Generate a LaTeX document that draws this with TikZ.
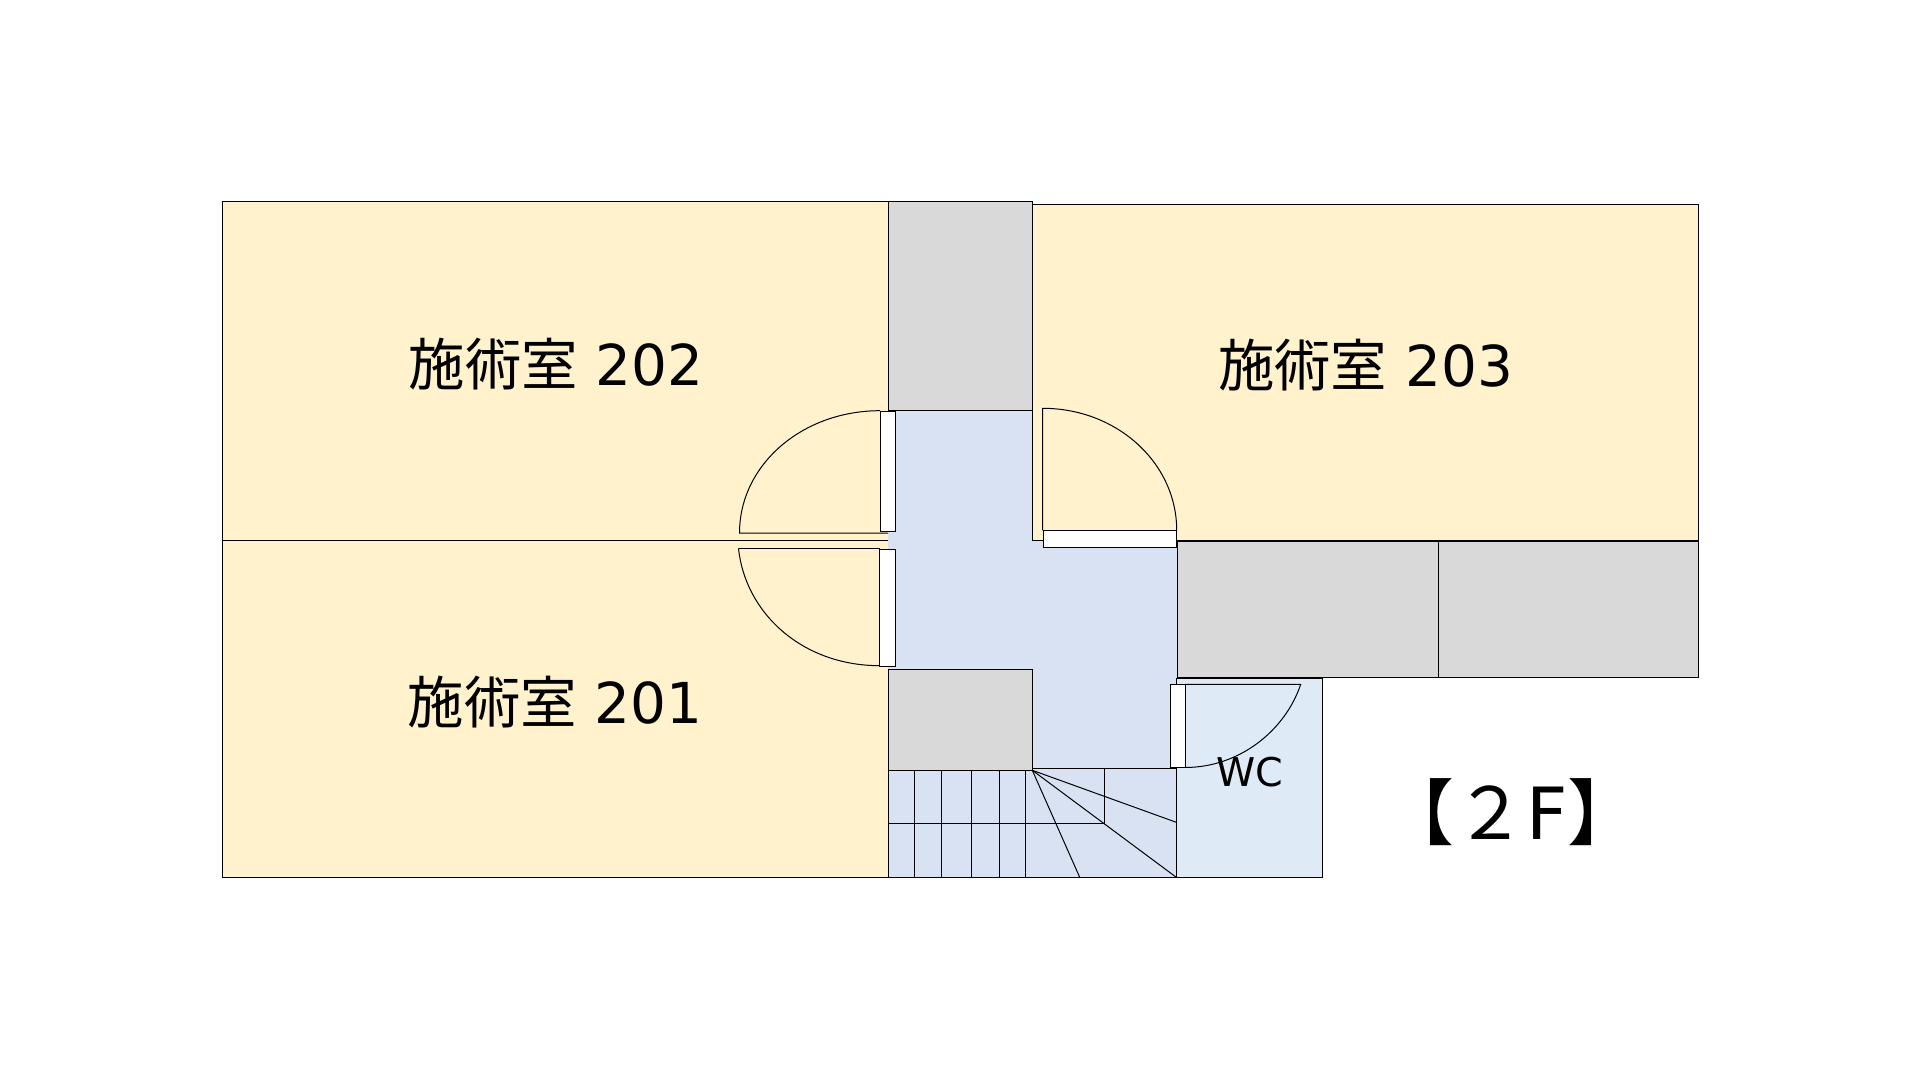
\documentclass[tikz,border=0pt]{standalone}
\usepackage{fontspec}
\setmainfont{DejaVu Sans}
\newfontfamily\cjk{Noto Sans CJK JP}
\definecolor{roomcol}{HTML}{FFF2CC}
\definecolor{wallcol}{HTML}{D9D9D9}
\definecolor{hallcol}{HTML}{D9E2F3}
\definecolor{wccol}{HTML}{DEEBF7}
\tikzset{
  room/.style={draw=black,fill=roomcol},
  wall/.style={draw=black,fill=wallcol},
  doorleaf/.style={draw=black,fill=white},
  roomlabel/.style={inner sep=0pt,font=\fontsize{28.2}{33}\selectfont},
}
\begin{document}
\begin{tikzpicture}[x=0.5pt,y=-0.5pt,line width=0.5pt]
      \useasboundingbox (0,0) rectangle (1920,1080);
      \draw[room] (222,202) rectangle (888,540);
      \draw[room] (222,540) rectangle (888,877);
      \draw[room] (1032,204.5) rectangle (1698,540);
      \fill[hallcol] (888,410) -- (1032,410) -- (1032,540) -- (1177,540) -- (1177,768)
        -- (1032,768) -- (1032,669) -- (888,669) -- cycle;
      \draw (888,410) -- (1032,410) -- (1032,540) -- (1043,540);
      \draw[wall] (888,202) rectangle (1032,410);
      \draw[wall] (888,669) rectangle (1032,770);
      \draw[wall] (1177,541) rectangle (1438,677);
      \draw[wall] (1438,541) rectangle (1698,677);
      \draw[fill=wccol] (1176.3,678.3) rectangle (1322.3,877.3);
      \draw[fill=hallcol] (888.3,770.3) -- (1032.3,770.3) -- (1032.3,768.3) -- (1176.3,768.3)
        -- (1176.3,877.3) -- (888.3,877.3) -- cycle;
      \foreach \stepx in {914.3,941.5,971.3,999.3,1025.3}
        \draw (\stepx,770.3) -- (\stepx,877.3);
      \draw (888.3,823.7) -- (1104.3,823.7) -- (1104.3,768.3);
      \coordinate (pivot) at (1032.3,770.3);
      \draw (pivot) -- (1176.3,822.3);
      \draw (pivot) -- (1176.3,877.3);
      \draw (pivot) -- (1079.7,877.3);
      \draw (880,410.7) .. controls (802,410.7) and (739.5,465) .. (739.5,533) -- (888,533);
      \draw (738.5,548.3) -- (880,548.3);
      \draw (738.5,548.3) .. controls (745,612) and (801,665.7) .. (880,665.7);
      \draw (1042.7,530.3) -- (1042.7,408.3) .. controls (1117,408.3) and (1176.7,463) .. (1176.7,530.3);
      \draw (1185,684.3) -- (1300.7,684.3) .. controls (1285,731) and (1239,767.5) .. (1185,767.5);
      \draw[doorleaf] (880.3,411.3) rectangle (895.7,531.7);
      \draw[doorleaf] (879.3,549.3) rectangle (895.7,666.3);
      \draw[doorleaf] (1043.3,530.3) rectangle (1176.7,547.3);
      \draw[doorleaf] (1170.3,684.3) rectangle (1185.3,767.7);
      \node[roomlabel] (room202) at (556,364) {{\cjk 施術室} 202};
      \node[roomlabel] (room203) at (1365.5,365) {{\cjk 施術室} 203};
      \node[roomlabel] (room201) at (555,702) {{\cjk 施術室} 201};
      \node[inner sep=0pt,font=\fontsize{19.8}{24}\selectfont] (wc) at (1250,772) {WC};
      \node[inner sep=0pt,font=\fontsize{36}{42}\selectfont] (floor) at (1511,812) {{\cjk 【２}F{\cjk 】}};
    \end{tikzpicture}
\end{document}
